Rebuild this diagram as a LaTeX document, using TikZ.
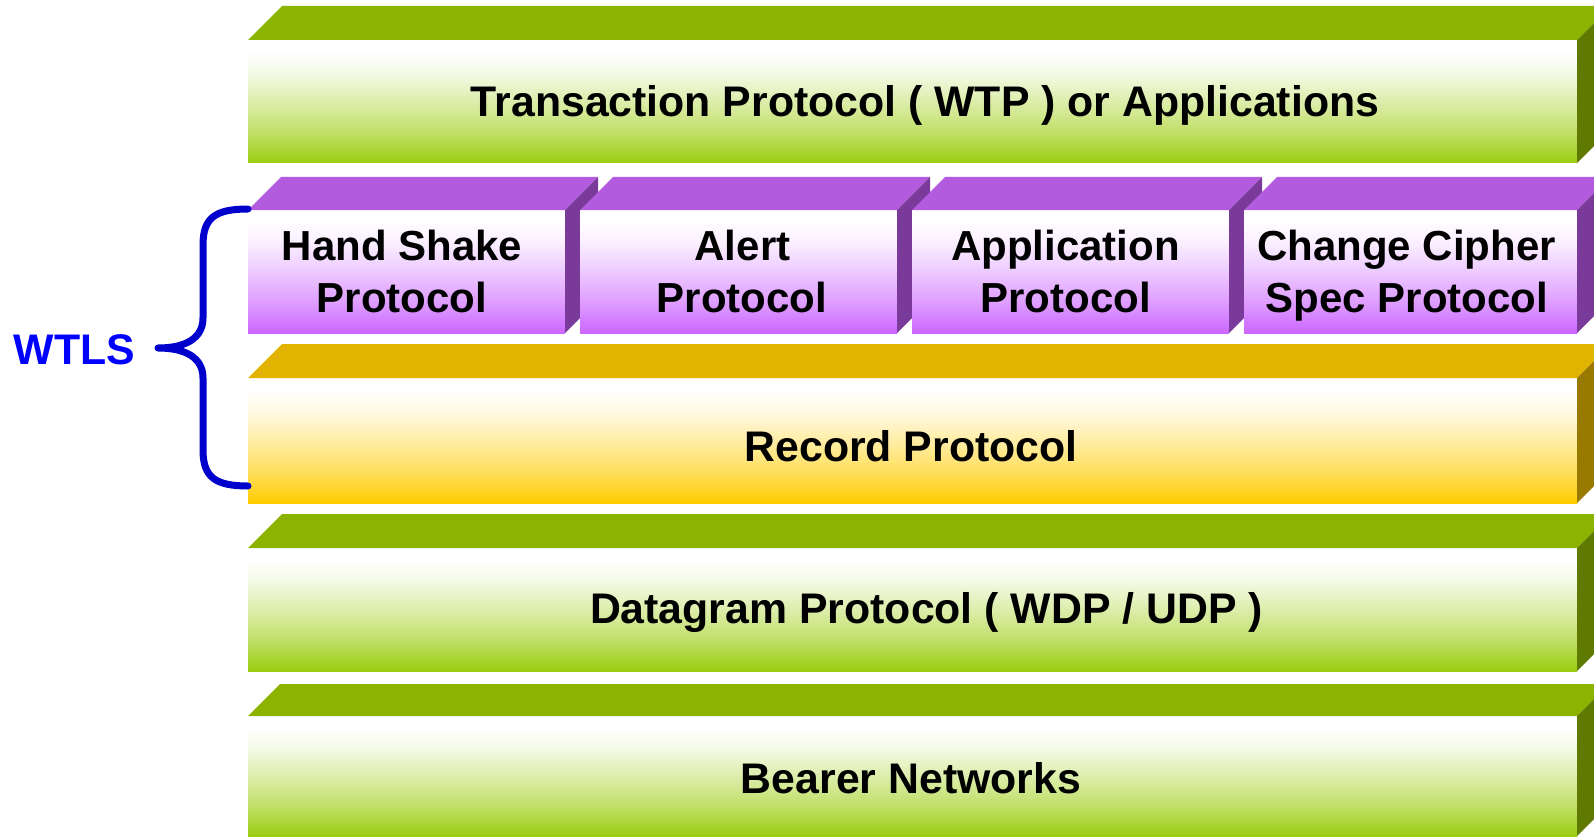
\documentclass[tikz,border=0pt]{standalone}
\usepackage{fontspec}
\setmainfont{Liberation Sans}

% palette: top band, side, and bottom of the front gradient
\definecolor{greentop}{RGB}{138,180,0}
\definecolor{greenside}{RGB}{94,122,0}
\definecolor{greenbot}{RGB}{156,205,16}
\definecolor{purpletop}{RGB}{178,91,222}
\definecolor{purpleside}{RGB}{122,58,153}
\definecolor{purplebot}{RGB}{204,102,255}
\definecolor{goldtop}{RGB}{224,180,0}
\definecolor{goldside}{RGB}{153,122,0}
\definecolor{goldbot}{RGB}{255,204,0}
\definecolor{bracecol}{RGB}{0,0,204}
\definecolor{wtlscol}{RGB}{0,0,255}

% front faces fade from white (top) to the palette colour (bottom)
\pgfdeclareverticalshading{greenface}{100bp}{color(0bp)=(greenbot); color(25bp)=(greenbot);
  color(37bp)=(greenbot!65!white); color(50bp)=(greenbot!35!white);
  color(62bp)=(greenbot!10!white); color(71bp)=(white); color(100bp)=(white)}
\pgfdeclareverticalshading{purpleface}{100bp}{color(0bp)=(purplebot); color(25bp)=(purplebot);
  color(37bp)=(purplebot!65!white); color(50bp)=(purplebot!35!white);
  color(62bp)=(purplebot!10!white); color(71bp)=(white); color(100bp)=(white)}
\pgfdeclareverticalshading{goldface}{100bp}{color(0bp)=(goldbot); color(25bp)=(goldbot);
  color(37bp)=(goldbot!65!white); color(50bp)=(goldbot!35!white);
  color(62bp)=(goldbot!10!white); color(71bp)=(white); color(100bp)=(white)}

\tikzset{
  face/.style={anchor=north west, inner sep=0pt, outer sep=0pt, draw=none},
  lbl/.style={anchor=base, inner sep=0pt, text=black,
    font=\fontsize{42}{50}\selectfont\bfseries},
  widelbl/.style={lbl, font=\fontsize{42.8}{50}\selectfont\bfseries},
  brace/.style={draw=bracecol, line width=7pt, line cap=round, line join=round},
}

% a 3-D slab: name, x, y, width, height, depth, palette
\newcommand{\slab}[7]{%
  \node[face, shading=#7face, minimum width=#4pt, minimum height=#5pt] (#1) at (#2,#3) {};
  \fill[#7top] (#1.north west) -- ++(#6,-#6) -- ([shift={(#6,-#6)}]#1.north east)
    -- (#1.north east) -- cycle;
  \fill[#7side] (#1.north east) -- ++(#6,-#6) -- ([shift={(#6,-#6)}]#1.south east)
    -- (#1.south east) -- cycle;
}

\begin{document}
\begin{tikzpicture}[x=1pt, y=-1pt]
\useasboundingbox (0,0) rectangle (1594,837);
\clip (0,0) rectangle (1594,837);

% protocol stack
\slab{tp}{248}{40}{1329}{123}{34}{green}
\slab{hs}{248}{210}{317}{123}{33}{purple}
\slab{al}{580}{210}{317}{123}{33}{purple}
\slab{ap}{912}{210}{317}{123}{33}{purple}
\slab{cc}{1244}{210}{333}{123}{33}{purple}
\slab{rec}{248}{378}{1329}{125}{34}{gold}
\slab{dgm}{248}{548}{1329}{123}{34}{green}
\slab{bn}{248}{716}{1329}{120}{32}{green}

% labels
\node[widelbl] (tptxt) at (925,117) {Transaction Protocol ( WTP ) or Applications};
\node[lbl] (hstxta) at (402,260.5) {Hand Shake};
\node[lbl] (hstxtb) at (402,312) {Protocol};
\node[lbl] (altxta) at (742.5,260.5) {Alert};
\node[lbl] (altxtb) at (742,312) {Protocol};
\node[lbl] (aptxta) at (1065.5,260.5) {Application};
\node[lbl] (aptxtb) at (1065.5,312) {Protocol};
\node[lbl] (cctxta) at (1406.5,260.5) {Change Cipher};
\node[lbl] (cctxtb) at (1407,312) {Spec Protocol};
\node[widelbl] (rectxt) at (911,461.5) {Record Protocol};
\node[widelbl] (dgmtxt) at (926.5,623) {Datagram Protocol ( WDP / UDP )};
\node[widelbl] (bntxt) at (911,793) {Bearer Networks};

% WTLS brace
\node[widelbl, text=wtlscol] (wtls) at (74.5,364) {WTLS};
\draw[brace] (248,209) .. controls (215,209) and (203,218) .. (203,245)
  -- (203,318) .. controls (203,338) and (186,348) .. (158,348)
  .. controls (186,348) and (203,358) .. (203,378)
  -- (203,450) .. controls (203,477) and (215,486) .. (248,486);
\end{tikzpicture}
\end{document}
